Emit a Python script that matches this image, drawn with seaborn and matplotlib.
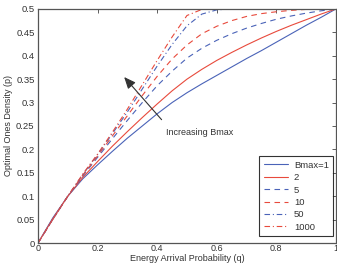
import numpy as np
import pandas as pd
import matplotlib
matplotlib.use("Agg")
import matplotlib.pyplot as plt
import seaborn as sns
from matplotlib.ticker import FuncFormatter

sns.set_style("white")
plt.rcParams['font.family'] = ['Liberation Sans', 'DejaVu Sans']

q = [0.0, 0.05, 0.1, 0.15, 0.2, 0.25, 0.3, 0.35, 0.4, 0.45, 0.5,
     0.55, 0.6, 0.65, 0.7, 0.75, 0.8, 0.85, 0.9, 0.95, 1.0]

p_b1 = [0.0, 0.054, 0.1, 0.137, 0.167, 0.196, 0.224, 0.25, 0.276, 0.3, 0.321,
        0.34, 0.358, 0.376, 0.394, 0.411, 0.429, 0.447, 0.465, 0.482, 0.5]
p_b2 = [0.0, 0.052, 0.1, 0.14, 0.174, 0.207, 0.238, 0.268, 0.297, 0.325, 0.35,
        0.371, 0.39, 0.407, 0.423, 0.438, 0.452, 0.465, 0.477, 0.489, 0.5]
p_b5 = [0.0, 0.051, 0.1, 0.143, 0.183, 0.223, 0.262, 0.3, 0.336, 0.367, 0.395,
        0.416, 0.433, 0.447, 0.459, 0.469, 0.478, 0.485, 0.491, 0.496, 0.5]
p_b10 = [0.0, 0.051, 0.1, 0.145, 0.186, 0.229, 0.272, 0.315, 0.356, 0.393, 0.423,
         0.447, 0.463, 0.475, 0.484, 0.49, 0.494, 0.497, 0.499, 0.5, 0.5]
p_b50 = [0.0, 0.051, 0.1, 0.146, 0.189, 0.234, 0.28, 0.329, 0.378, 0.424, 0.464,
         0.489, 0.498, 0.5, 0.5, 0.5, 0.5, 0.5, 0.5, 0.5, 0.5]
p_b1000 = [0.0, 0.051, 0.1, 0.147, 0.19, 0.237, 0.286, 0.338, 0.39, 0.44, 0.486,
           0.499, 0.5, 0.5, 0.5, 0.5, 0.5, 0.5, 0.5, 0.5, 0.5]

labels = ["Bmax=1", "2", "5", "10", "50", "1000"]
series = [p_b1, p_b2, p_b5, p_b10, p_b50, p_b1000]

blue = "#4a63b8"
red = "#e84a3c"
colors = [blue, red, blue, red, blue, red]
styles = ["-", "-", (0, (5, 4)), (0, (5, 4)), (0, (5, 2.5, 1, 2.5)), (0, (5, 2.5, 1, 2.5))]

fig = plt.figure(figsize=(3.37, 2.63), dpi=100)
ax = fig.add_axes([0.1128, 0.076, 0.884, 0.89])

for lab, vals, c, ls in zip(labels, series, colors, styles):
    sns.lineplot(x=q, y=vals, ax=ax, color=c, linestyle=ls, linewidth=0.8, label=lab)

ax.set_xlim(0, 1)
ax.set_ylim(0, 0.5)
ax.set_xticks([0, 0.2, 0.4, 0.6, 0.8, 1.0])
ax.set_yticks([0, 0.05, 0.1, 0.15, 0.2, 0.25, 0.3, 0.35, 0.4, 0.45, 0.5])
fmt = FuncFormatter(lambda v, pos: ("%g" % round(v, 3)))
ax.xaxis.set_major_formatter(fmt)
ax.yaxis.set_major_formatter(fmt)
ax.tick_params(direction="in", length=3, width=0.6, colors="#444444", labelsize=6.8,
               top=True, right=True, labelcolor="#333333", pad=2.5)
ax.tick_params(axis="x", pad=1.0, labelsize=6.5)
for s in ax.spines.values():
    s.set_color("#555555")
    s.set_linewidth(0.9)

ax.set_xlabel("Energy Arrival Probability (q)", fontsize=6.5, color="#333333")
ax.xaxis.label.set_va("bottom")
ax.xaxis.set_label_coords(0.5, -0.0835)
ax.set_ylabel("Optimal Ones Density (p)", fontsize=6.5, color="#333333", labelpad=2)

ax.annotate("", xy=(0.283, 0.359), xytext=(0.421, 0.259),
            arrowprops=dict(arrowstyle="-|>,head_length=0.7,head_width=0.3",
                            color="#333333", lw=0.8))
ax.text(0.43, 0.235, "Increasing Bmax", fontsize=6.5, color="#333333",
        ha="left", va="center")

leg = ax.legend(loc="lower right", bbox_to_anchor=(0.99, 0.03), fontsize=6.8,
                frameon=True, fancybox=False, edgecolor="black", handlelength=2.6,
                borderpad=0.45, labelspacing=0.36, handletextpad=0.6, borderaxespad=0.0)
leg.get_frame().set_linewidth(0.8)
for t in leg.get_texts():
    t.set_color("#333333")

fig.savefig("out.png", dpi=100)
